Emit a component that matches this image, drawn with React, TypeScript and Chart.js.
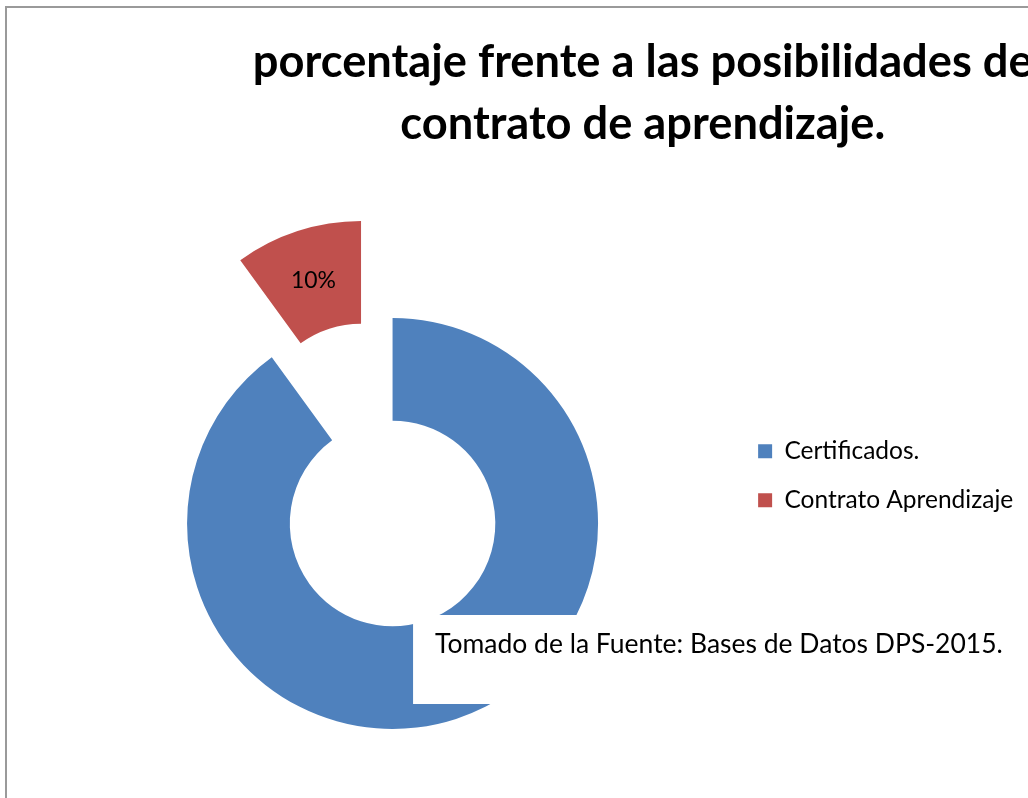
import React, { useEffect, useRef } from 'react';
import { Chart, registerables } from 'chart.js';

Chart.register(...registerables);

// ---- data -------------------------------------------------------------
const TITLE_LINES = ['porcentaje frente a las posibilidades de', 'contrato de aprendizaje.'];
const CATEGORIES = ['Certificados.', 'Contrato Aprendizaje'];
const VALUES = [90, 10];
const COLORS = ['#4F81BD', '#C0504D'];
const EXPLODE = [0, 408]; // arc "offset" option (Chart.js moves a slice by offset / 4)
const SOURCE_NOTE = 'Tomado de la Fuente: Bases de Datos DPS-2015.';

// ---- style ------------------------------------------------------------
const FAMILY = 'Lato, "Open Sans", "DejaVu Sans", sans-serif';
const CANVAS_H = 891;

function fitFontSize(text: string, weight: string, target: number): number {
  const ctx = document.createElement('canvas').getContext('2d')!;
  ctx.font = `${weight} 100px ${FAMILY}`;
  return (100 * target) / ctx.measureText(text).width;
}

export default function App() {
  const ref = useRef<HTMLCanvasElement>(null);

  useEffect(() => {
    if (!ref.current) return;
    const titleSize = fitFontSize(TITLE_LINES[1], 'bold', 485);
    const legendSize = fitFontSize(CATEGORIES[1], 'normal', 229);
    const noteSize = fitFontSize(SOURCE_NOTE, 'normal', 568);
    const labelSize = fitFontSize('10%', 'normal', 45);

    const boxW = 14;
    const itemGap = 49;
    const legendPad = itemGap - legendSize;
    const legendItemsX = 758;
    const chartRight = legendItemsX - legendPad;
    const padLeft = 785 - chartRight;
    const canvasW = Math.round(1285 - padLeft);
    const legendW = legendPad + boxW + legendSize / 2 + 229 + 10;
    const spacerW = Math.max(canvasW - chartRight - legendW, 1);
    const canvas = ref.current;
    canvas.width = canvasW;
    canvas.style.width = canvasW + 'px';

    const total = VALUES.reduce((a, b) => a + b, 0);

    // Excel-style "explode": keep the moved slice at the ring's own radii and angles
    const sliceLabels = {
      id: 'sliceLabels',
      beforeDatasetsDraw(chart: any) {
        const meta = chart.getDatasetMeta(0);
        meta.data.forEach((arc: any) => {
          arc.$saved = [arc.outerRadius, arc.innerRadius, arc.startAngle, arc.endAngle];
          const off = (arc.options.offset || 0) / 4;
          if (!off) return;
          const fix = 1 - Math.sin(Math.min(Math.PI, arc.circumference || 0));
          const ro = off * fix;
          const drawnR = arc.outerRadius;
          arc.outerRadius -= ro;
          arc.innerRadius -= ro;
          const d = ro / Math.PI / drawnR / 2;
          arc.startAngle -= d;
          arc.endAngle += d;
        });
      },
      afterDatasetsDraw(chart: any) {
        const meta = chart.getDatasetMeta(0);
        const ctx = chart.ctx;
        meta.data.forEach((arc: any, i: number) => {
          if (arc.$saved) {
            [arc.outerRadius, arc.innerRadius, arc.startAngle, arc.endAngle] = arc.$saved;
          }
          const mid = (arc.startAngle + arc.endAngle) / 2;
          const off = (arc.options.offset || 0) / 4;
          const r = (arc.outerRadius + arc.innerRadius) / 2 + off;
          const x = arc.x + Math.cos(mid) * r;
          const y = arc.y + Math.sin(mid) * r;
          ctx.save();
          ctx.font = `normal ${labelSize}px ${FAMILY}`;
          ctx.fillStyle = '#000';
          ctx.textAlign = 'center';
          ctx.textBaseline = 'middle';
          ctx.fillText(`${Math.round((VALUES[i] / total) * 100)}%`, x, y + 1);
          ctx.restore();
        });
      },
    };

    // white text box with the source note, laid over the ring
    const sourceNote = {
      id: 'sourceNote',
      afterDraw(chart: any) {
        const arc = chart.getDatasetMeta(0).data[0] as any;
        const cx = arc.x;
        const cy = arc.y;
        const ctx = chart.ctx;
        ctx.save();
        ctx.fillStyle = '#ffffff';
        ctx.fillRect(cx + 20.5, cy + 91.5, 640, 89);
        ctx.font = `normal ${noteSize}px ${FAMILY}`;
        ctx.fillStyle = '#000';
        ctx.textAlign = 'left';
        ctx.textBaseline = 'alphabetic';
        ctx.fillText(SOURCE_NOTE, cx + 42.5, cy + 129.5);
        ctx.restore();
      },
    };

    const chart = new Chart(canvas, {
      type: 'doughnut',
      data: {
        labels: CATEGORIES,
        datasets: [
          {
            data: VALUES,
            backgroundColor: COLORS,
            borderWidth: 0,
            offset: EXPLODE,
            radius: 205.5,
            cutout: '50%',
          } as any,
        ],
      },
      options: {
        responsive: false,
        animation: false,
        events: [],
        layout: { padding: { left: padLeft, right: 0, top: 0, bottom: 0 } },
        plugins: {
          title: {
            display: true,
            text: TITLE_LINES,
            color: '#000',
            font: { family: FAMILY, size: titleSize, weight: 'bold', lineHeight: '62.5px' } as any,
            padding: { top: 31, bottom: 0 },
          },
          subtitle: {
            display: true,
            text: '',
            position: 'right',
            font: { size: 1, lineHeight: `${spacerW}px` } as any,
            padding: 0,
          },
          legend: {
            display: true,
            position: 'right',
            align: 'center',
            title: {
              display: true,
              text: '',
              font: { size: 1, lineHeight: '60.5px' } as any,
              padding: 0,
            },
            labels: {
              boxWidth: boxW,
              boxHeight: boxW,
              padding: legendPad,
              color: '#000',
              font: { family: FAMILY, size: legendSize },
            },
          },
          tooltip: { enabled: false },
        },
      } as any,
      plugins: [sliceLabels, sourceNote],
    });
    return () => chart.destroy();
  }, []);

  return (
    <div
      style={{
        position: 'absolute',
        left: 0,
        top: 0,
        width: 1028,
        height: 798,
        overflow: 'hidden',
        background: '#fff',
      }}
    >
      <div
        style={{
          position: 'absolute',
          left: 5,
          top: 6,
          width: 3000,
          height: 3000,
          borderLeft: '2px solid #9a9a9a',
          borderTop: '2px solid #9a9a9a',
        }}
      />
      <canvas
        ref={ref}
        width={1232}
        height={CANVAS_H}
        style={{ position: 'absolute', left: 0, top: 0, width: 1232, height: CANVAS_H }}
      />
    </div>
  );
}
